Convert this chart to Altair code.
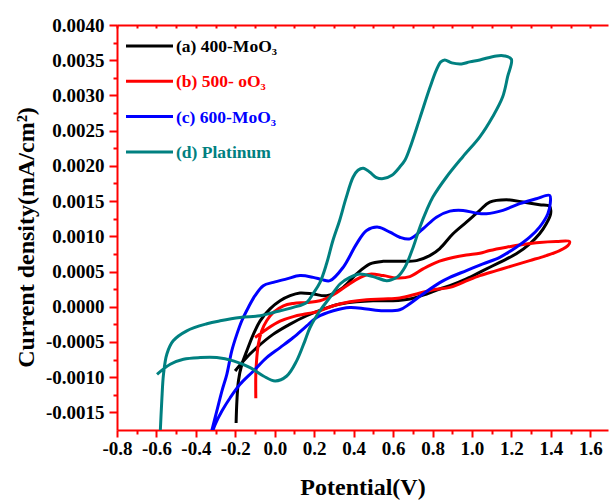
import altair as alt
import pandas as pd

# ---- data (potential in V, current density) ----
# (a) 400-MoO3  (black)
a_v = [-0.196, -0.192, -0.184, -0.167, -0.142, -0.108, -0.074, -0.024, 0.027, 0.078, 0.128, 0.195, 0.263,
       0.347, 0.415, 0.483, 0.550, 0.634, 0.719, 0.786, 0.837, 0.904, 0.972, 1.040, 1.090, 1.175, 1.259,
       1.343, 1.394, 1.399, 1.377, 1.343, 1.293, 1.225, 1.141, 1.056, 0.972, 0.888, 0.837, 0.770, 0.685,
       0.600, 0.499, 0.415, 0.331, 0.246, 0.162, 0.078, -0.007, -0.091, -0.159, -0.201]
a_j = [-0.00165, -0.00134, -0.00105, -0.00082, -0.00063, -0.00039, -0.0002, -0.00003, 0.000085, 0.000157,
       0.000195, 0.000181, 0.000157, 0.000275, 0.000466, 0.000608, 0.000645, 0.000645, 0.000655, 0.000726,
       0.000826, 0.001036, 0.001201, 0.001368, 0.001486, 0.00152, 0.001486, 0.001449, 0.001425, 0.00132,
       0.001178, 0.001036, 0.000893, 0.000751, 0.000631, 0.000513, 0.000395, 0.000299, 0.000252, 0.000181,
       0.00011, 0.000085, 0.000085, 0.000071, 0.000038, -0.000033, -0.000128, -0.000246, -0.000389,
       -0.00058, -0.000769, -0.000912]

# (b) 500-MoO3  (red)
b_v = [-0.096, -0.096, -0.091, -0.083, -0.066, -0.041, -0.007, 0.044, 0.094, 0.162, 0.229, 0.297, 0.365,
       0.432, 0.483, 0.550, 0.618, 0.685, 0.752, 0.820, 0.904, 0.972, 1.040, 1.090, 1.175, 1.259, 1.343,
       1.428, 1.495, 1.487, 1.445, 1.377, 1.293, 1.208, 1.124, 1.040, 0.955, 0.888, 0.803, 0.719, 0.634,
       0.550, 0.466, 0.381, 0.297, 0.213, 0.162, 0.094, 0.027, -0.041, -0.100]
b_j = [-0.0013, -0.000959, -0.000722, -0.000531, -0.000342, -0.000199, -0.000081, 0.000014, 0.000047,
       0.000061, 0.000085, 0.000171, 0.000299, 0.000413, 0.000463, 0.000442, 0.000409, 0.000427, 0.000537,
       0.000631, 0.000698, 0.000734, 0.000759, 0.000798, 0.000845, 0.000883, 0.000912, 0.000926, 0.000926,
       0.000869, 0.000798, 0.000726, 0.000655, 0.000584, 0.000513, 0.000442, 0.000346, 0.000275, 0.000242,
       0.000181, 0.000124, 0.00011, 0.0001, 0.000071, 0.000014, -0.000071, -0.0001, -0.00014, -0.000205,
       -0.000318, -0.000437]

# (c) 600-MoO3  (blue)
c_v = [-0.323, -0.294, -0.268, -0.243, -0.218, -0.192, -0.167, -0.134, -0.100, -0.058, -0.007, 0.061, 0.128,
       0.195, 0.240, 0.280, 0.347, 0.415, 0.466, 0.525, 0.584, 0.634, 0.685, 0.752, 0.820, 0.888, 0.955,
       1.023, 1.073, 1.157, 1.242, 1.327, 1.394, 1.397, 1.385, 1.343, 1.293, 1.225, 1.141, 1.056, 0.972,
       0.888, 0.837, 0.752, 0.685, 0.634, 0.550, 0.466, 0.381, 0.297, 0.213, 0.162, 0.094, 0.027, -0.041,
       -0.108, -0.176, -0.226, -0.268, -0.302, -0.319]
c_j = [-0.0018, -0.001481, -0.001197, -0.000959, -0.000627, -0.000389, -0.000199, -0.00001, 0.000157,
       0.000299, 0.000346, 0.000395, 0.000442, 0.000417, 0.000385, 0.00037, 0.00056, 0.000893, 0.001083,
       0.00113, 0.001058, 0.000987, 0.000964, 0.001107, 0.001272, 0.001358, 0.001368, 0.001329, 0.00132,
       0.001368, 0.001463, 0.001534, 0.001581, 0.001463, 0.00132, 0.00113, 0.000987, 0.000845, 0.000702,
       0.000608, 0.000513, 0.000417, 0.000342, 0.000181, 0.000043, -0.000043, -0.000057, -0.000033,
       -0.00001, -0.000057, -0.000152, -0.000271, -0.000437, -0.00058, -0.000722, -0.000912, -0.001101,
       -0.001292, -0.001481, -0.001671, -0.0018]

# (d) Platinum  (teal)
d_v = [-0.581, -0.573, -0.564, -0.547, -0.515, -0.446, -0.344, -0.277, -0.176, -0.074, -0.006, 0.094, 0.162,
       0.194, 0.229, 0.263, 0.295, 0.329, 0.361, 0.397, 0.422, 0.449, 0.483, 0.513, 0.550, 0.594, 0.634,
       0.660, 0.685, 0.736, 0.786, 0.820, 0.842, 0.862, 0.898, 0.947, 0.989, 1.040, 1.124, 1.166, 1.200,
       1.181, 1.156, 1.105, 1.040, 0.953, 0.871, 0.802, 0.770, 0.736, 0.702, 0.660, 0.624, 0.594, 0.567,
       0.499, 0.432, 0.381, 0.331, 0.280, 0.229, 0.179, 0.153, 0.111, 0.061, 0.002, -0.058, -0.125, -0.210,
       -0.294, -0.378, -0.463, -0.530, -0.597]
d_j = [-0.0018, -0.00134, -0.000954, -0.00067, -0.000484, -0.000342, -0.000242, -0.0002, -0.000152,
       -0.000128, -0.000081, -0.00001, 0.000061, 0.000185, 0.000342, 0.000613, 0.00094, 0.001225, 0.001538,
       0.001838, 0.001937, 0.001966, 0.001909, 0.001838, 0.001819, 0.001866, 0.001984, 0.00208, 0.00225,
       0.002678, 0.003105, 0.003362, 0.003476, 0.003504, 0.003462, 0.003447, 0.003476, 0.003504, 0.003561,
       0.003561, 0.003514, 0.003266, 0.002981, 0.002697, 0.002412, 0.002127, 0.001842, 0.001557, 0.001368,
       0.00113, 0.000845, 0.00056, 0.000427, 0.000385, 0.00037, 0.000427, 0.000466, 0.000417, 0.000323,
       0.000132, -0.000057, -0.000295, -0.000484, -0.000769, -0.000983, -0.001054, -0.000983, -0.000865,
       -0.000769, -0.000722, -0.000722, -0.000745, -0.000816, -0.000959]

series_names = ["(a) 400-MoO\u2083", "(b) 500- oO\u2083", "(c) 600-MoO\u2083", "(d) Platinum"]
series_colors = ["#000000", "#FF0000", "#0000FF", "#008080"]

x_ticks = [-0.8, -0.7, -0.6, -0.5, -0.4, -0.3, -0.2, -0.1, 0.0, 0.1, 0.2, 0.3, 0.4, 0.5, 0.6, 0.7,
           0.8, 0.9, 1.0, 1.1, 1.2, 1.3, 1.4, 1.5, 1.6]
y_ticks = [-0.0015, -0.00125, -0.001, -0.00075, -0.0005, -0.00025, 0.0, 0.00025, 0.0005, 0.00075,
           0.001, 0.00125, 0.0015, 0.00175, 0.002, 0.00225, 0.0025, 0.00275, 0.003, 0.00325, 0.0035,
           0.00375, 0.004]
x_domain = [-0.8, 1.69]
y_domain = [-0.00175, 0.004]

# ---- build table ----
frames = []
for name, vv, jj in zip(series_names, [a_v, b_v, c_v, d_v], [a_j, b_j, c_j, d_j]):
    f = pd.DataFrame({"v": vv, "j": jj})
    f["series"] = name
    f["i"] = range(len(f))
    frames.append(f)
df = pd.concat(frames, ignore_index=True)

W, H = 491, 405
FONT = "Liberation Serif"
RED = "#FF0000"

xmajor = "abs(round(datum.value*10)) % 2 == 0"
ymajor = "abs(round(datum.value*4000)) % 2 == 0"
hyphen = "replace(datum.label, '\u2212', '-')"

xscale = alt.Scale(domain=x_domain, nice=False, zero=False)
yscale = alt.Scale(domain=y_domain, nice=False, zero=False)

x_axis = alt.Axis(
    values=x_ticks, format=".1f", labelExpr=f"{xmajor} ? {hyphen} : ''",
    tickSize={"condition": {"test": xmajor, "value": 7}, "value": 4},
    tickColor=RED, tickWidth=2, domainColor=RED, domainWidth=2, grid=False,
    labelFont=FONT, labelFontWeight="bold", labelFontSize=19, labelColor="black",
    labelPadding=2, labelFlush=False, labelOverlap=False,
    title="Potential(V)", titleFont=FONT, titleFontWeight="bold", titleFontSize=24,
    titleColor="black", titleX=W / 2, titleY=64, titleBaseline="alphabetic", titleAlign="center",
)
y_axis = alt.Axis(
    values=y_ticks, format=".4f", labelExpr=f"{ymajor} ? {hyphen} : ''",
    tickSize={"condition": {"test": ymajor, "value": 8}, "value": 4},
    tickColor=RED, tickWidth=2, domainColor=RED, domainWidth=2, grid=False,
    labelFont=FONT, labelFontWeight="bold", labelFontSize=19, labelColor="black",
    labelPadding=5, labelFlush=False, labelOverlap=False,
    title="Current density(mA/cm\u00b2)", titleFont=FONT, titleFontWeight="bold", titleFontSize=24,
    titleColor="black", titleX=-84, titleY=212, titleAngle=270, titleBaseline="alphabetic",
    titleAlign="center",
)

lines = alt.Chart(df).mark_line(strokeWidth=3, clip=True, interpolate="catmull-rom").encode(
    x=alt.X("v:Q", scale=xscale, axis=x_axis),
    y=alt.Y("j:Q", scale=yscale, axis=y_axis),
    color=alt.Color("series:N", scale=alt.Scale(domain=series_names, range=series_colors), legend=None),
    detail="series:N",
    order=alt.Order("i:Q"),
)

top_axis = alt.Chart(df).mark_line(opacity=0).encode(
    x=alt.X("v:Q", scale=xscale, axis=alt.Axis(
        orient="bottom", offset=-H, values=x_ticks, labels=False, title=None, tickSize=3,
        tickColor=RED, tickWidth=2, domainColor=RED, domainWidth=2, grid=False)),
    y=alt.Y("j:Q", scale=yscale, axis=None),
    detail="series:N",
)

legend_layers = []
for k, (name, col) in enumerate(zip(series_names, series_colors)):
    yy = 21 + 35.3 * k
    ldf = pd.DataFrame({"label": [name]})
    legend_layers.append(
        alt.Chart(ldf).mark_rule(color=col, strokeWidth=3).encode(
            x=alt.value(9), x2=alt.value(56), y=alt.value(yy))
    )
    legend_layers.append(
        alt.Chart(ldf).mark_text(align="left", baseline="middle", font=FONT, fontWeight="bold",
                                 fontSize=17.5, color=col).encode(
            x=alt.value(59), y=alt.value(yy + 1), text="label:N")
    )

chart = alt.layer(lines, top_axis, *legend_layers).resolve_axis(
    x="independent", y="independent"
).properties(
    width=W, height=H,
    autosize=alt.AutoSizeParams(type="none"),
    padding={"left": 117, "top": 25, "right": 1, "bottom": 70},
    background="white",
).configure_view(stroke=None)

chart.save("out.html", embed_options={"renderer": "svg", "actions": False})
